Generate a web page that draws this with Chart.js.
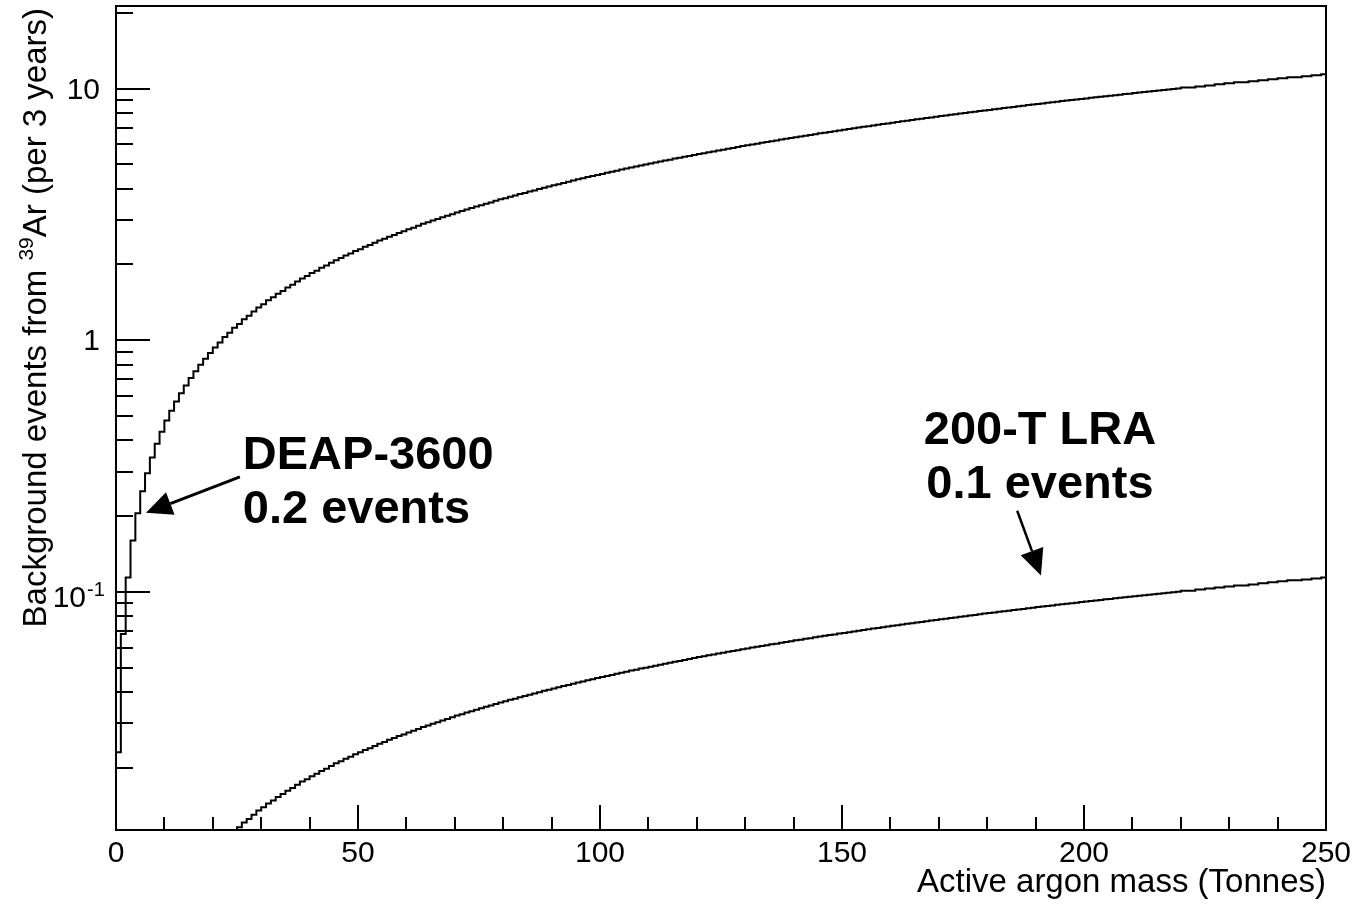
<!DOCTYPE html>
<html>
<head>
<meta charset="utf-8">
<title>39Ar background events vs active argon mass</title>
<script src="https://cdn.jsdelivr.net/npm/chart.js@4/dist/chart.umd.min.js"></script>
<style>
  html, body { margin: 0; padding: 0; background: #fff; }
  canvas { display: block; }
</style>
</head>
<body>
<canvas id="chart" width="1355" height="904" style="width:1355px;height:904px"></canvas>
<script>
// histogram bins are 1 tonne wide, from 0 to 250 tonnes
const binWidth = 1;

// background events per 3 years, atmospheric argon (upper curve)
const bgAtmospheric = [
  0.023, 0.068, 0.114, 0.160, 0.205, 0.251, 0.296, 0.342, 0.388, 0.433,
  0.479, 0.524, 0.570, 0.616, 0.661, 0.707, 0.752, 0.798, 0.844, 0.889,
  0.935, 0.980, 1.03, 1.07, 1.12, 1.16, 1.21, 1.25, 1.30, 1.35,
  1.39, 1.44, 1.48, 1.53, 1.57, 1.62, 1.66, 1.71, 1.76, 1.80,
  1.85, 1.89, 1.94, 1.98, 2.03, 2.08, 2.12, 2.17, 2.21, 2.26,
  2.30, 2.35, 2.39, 2.44, 2.49, 2.53, 2.58, 2.62, 2.67, 2.71,
  2.76, 2.80, 2.85, 2.90, 2.94, 2.99, 3.03, 3.08, 3.12, 3.17,
  3.22, 3.26, 3.31, 3.35, 3.40, 3.44, 3.49, 3.53, 3.58, 3.63,
  3.67, 3.72, 3.76, 3.81, 3.85, 3.90, 3.94, 3.99, 4.04, 4.08,
  4.13, 4.17, 4.22, 4.26, 4.31, 4.36, 4.40, 4.45, 4.49, 4.54,
  4.58, 4.63, 4.67, 4.72, 4.77, 4.81, 4.86, 4.90, 4.95, 4.99,
  5.04, 5.08, 5.13, 5.18, 5.22, 5.27, 5.31, 5.36, 5.40, 5.45,
  5.50, 5.54, 5.59, 5.63, 5.68, 5.72, 5.77, 5.81, 5.86, 5.91,
  5.95, 6.00, 6.04, 6.09, 6.13, 6.18, 6.22, 6.27, 6.32, 6.36,
  6.41, 6.45, 6.50, 6.54, 6.59, 6.64, 6.68, 6.73, 6.77, 6.82,
  6.86, 6.91, 6.95, 7.00, 7.05, 7.09, 7.14, 7.18, 7.23, 7.27,
  7.32, 7.36, 7.41, 7.46, 7.50, 7.55, 7.59, 7.64, 7.68, 7.73,
  7.78, 7.82, 7.87, 7.91, 7.96, 8.00, 8.05, 8.09, 8.14, 8.19,
  8.23, 8.28, 8.32, 8.37, 8.41, 8.46, 8.50, 8.55, 8.60, 8.64,
  8.69, 8.73, 8.78, 8.82, 8.87, 8.92, 8.96, 9.01, 9.05, 9.10,
  9.14, 9.19, 9.23, 9.28, 9.33, 9.37, 9.42, 9.46, 9.51, 9.55,
  9.60, 9.64, 9.69, 9.74, 9.78, 9.83, 9.87, 9.92, 9.96, 10.0,
  10.1, 10.1, 10.1, 10.2, 10.2, 10.3, 10.3, 10.4, 10.4, 10.5,
  10.5, 10.6, 10.6, 10.6, 10.7, 10.7, 10.8, 10.8, 10.9, 10.9,
  11.0, 11.0, 11.1, 11.1, 11.1, 11.2, 11.2, 11.3, 11.3, 11.4
];

// background events per 3 years, low radioactivity argon (lower curve)
const bgLowRadio = [
  0.00023, 0.00068, 0.00114, 0.00160, 0.00205, 0.00251, 0.00296, 0.00342, 0.00388, 0.00433,
  0.00479, 0.00524, 0.00570, 0.00616, 0.00661, 0.00707, 0.00752, 0.00798, 0.00844, 0.00889,
  0.00935, 0.00980, 0.0103, 0.0107, 0.0112, 0.0116, 0.0121, 0.0125, 0.0130, 0.0135,
  0.0139, 0.0144, 0.0148, 0.0153, 0.0157, 0.0162, 0.0166, 0.0171, 0.0176, 0.0180,
  0.0185, 0.0189, 0.0194, 0.0198, 0.0203, 0.0208, 0.0212, 0.0217, 0.0221, 0.0226,
  0.0230, 0.0235, 0.0239, 0.0244, 0.0249, 0.0253, 0.0258, 0.0262, 0.0267, 0.0271,
  0.0276, 0.0280, 0.0285, 0.0290, 0.0294, 0.0299, 0.0303, 0.0308, 0.0312, 0.0317,
  0.0322, 0.0326, 0.0331, 0.0335, 0.0340, 0.0344, 0.0349, 0.0353, 0.0358, 0.0363,
  0.0367, 0.0372, 0.0376, 0.0381, 0.0385, 0.0390, 0.0394, 0.0399, 0.0404, 0.0408,
  0.0413, 0.0417, 0.0422, 0.0426, 0.0431, 0.0436, 0.0440, 0.0445, 0.0449, 0.0454,
  0.0458, 0.0463, 0.0467, 0.0472, 0.0477, 0.0481, 0.0486, 0.0490, 0.0495, 0.0499,
  0.0504, 0.0508, 0.0513, 0.0518, 0.0522, 0.0527, 0.0531, 0.0536, 0.0540, 0.0545,
  0.0550, 0.0554, 0.0559, 0.0563, 0.0568, 0.0572, 0.0577, 0.0581, 0.0586, 0.0591,
  0.0595, 0.0600, 0.0604, 0.0609, 0.0613, 0.0618, 0.0622, 0.0627, 0.0632, 0.0636,
  0.0641, 0.0645, 0.0650, 0.0654, 0.0659, 0.0664, 0.0668, 0.0673, 0.0677, 0.0682,
  0.0686, 0.0691, 0.0695, 0.0700, 0.0705, 0.0709, 0.0714, 0.0718, 0.0723, 0.0727,
  0.0732, 0.0736, 0.0741, 0.0746, 0.0750, 0.0755, 0.0759, 0.0764, 0.0768, 0.0773,
  0.0778, 0.0782, 0.0787, 0.0791, 0.0796, 0.0800, 0.0805, 0.0809, 0.0814, 0.0819,
  0.0823, 0.0828, 0.0832, 0.0837, 0.0841, 0.0846, 0.0850, 0.0855, 0.0860, 0.0864,
  0.0869, 0.0873, 0.0878, 0.0882, 0.0887, 0.0892, 0.0896, 0.0901, 0.0905, 0.0910,
  0.0914, 0.0919, 0.0923, 0.0928, 0.0933, 0.0937, 0.0942, 0.0946, 0.0951, 0.0955,
  0.0960, 0.0964, 0.0969, 0.0974, 0.0978, 0.0983, 0.0987, 0.0992, 0.0996, 0.100,
  0.101, 0.101, 0.101, 0.102, 0.102, 0.103, 0.103, 0.104, 0.104, 0.105,
  0.105, 0.106, 0.106, 0.106, 0.107, 0.107, 0.108, 0.108, 0.109, 0.109,
  0.110, 0.110, 0.111, 0.111, 0.111, 0.112, 0.112, 0.113, 0.113, 0.114
];

// axis ticks
const xMajorTicks = [0, 50, 100, 150, 200, 250];
const xMinorTicks = [10, 20, 30, 40, 60, 70, 80, 90, 110, 120, 130, 140,
  160, 170, 180, 190, 210, 220, 230, 240];
const yMajorTicks = [0.1, 1, 10];
const yMinorTicks = [0.02, 0.03, 0.04, 0.05, 0.06, 0.07, 0.08, 0.09,
  0.2, 0.3, 0.4, 0.5, 0.6, 0.7, 0.8, 0.9,
  2, 3, 4, 5, 6, 7, 8, 9, 20];
const xRange = [0, 250];
const yRange = [0.0113, 21.3];

const xTitle = 'Active argon mass (Tonnes)';
const yTitleParts = ['Background events from ', '39', 'Ar (per 3 years)'];

// annotations, anchored in data coordinates
const notes = [
  { lines: ['DEAP-3600', '0.2 events'], at: { x: 26.2, y: 0.308 }, align: 'left',
    arrow: { from: { x: 25.6, y: 0.286 }, to: { x: 6.2, y: 0.206 }, width: 3 } },
  { lines: ['200-T LRA', '0.1 events'], at: { x: 190.9, y: 0.387 }, align: 'center',
    arrow: { from: { x: 186.2, y: 0.21 }, to: { x: 191.1, y: 0.116 }, width: 2.5 } }
];

const FONT = '"Liberation Sans", Arial, Helvetica, sans-serif';
const INK = '#000';
const TICK_FONT = 30;

function histPoints(values) {
  const pts = values.map((v, i) => ({ x: i * binWidth, y: v }));
  pts.push({ x: values.length * binWidth, y: values[values.length - 1] });
  return pts;
}

function drawArrow(ctx, x0, y0, x1, y1, lw) {
  const a = Math.atan2(y1 - y0, x1 - x0);
  const len = 26, half = 12;
  const bx = x1 - len * Math.cos(a), by = y1 - len * Math.sin(a);
  ctx.lineWidth = lw;
  ctx.beginPath();
  ctx.moveTo(x0, y0);
  ctx.lineTo(bx, by);
  ctx.stroke();
  ctx.beginPath();
  ctx.moveTo(x1, y1);
  ctx.lineTo(bx + half * Math.sin(a), by - half * Math.cos(a));
  ctx.lineTo(bx - half * Math.sin(a), by + half * Math.cos(a));
  ctx.closePath();
  ctx.fill();
}

const rootStyle = {
  id: 'rootStyle',
  afterDraw(chart) {
    const { ctx, chartArea: a, scales: { x, y } } = chart;
    ctx.save();
    ctx.strokeStyle = INK;
    ctx.fillStyle = INK;
    ctx.lineWidth = 2;
    ctx.lineCap = 'butt';

    // frame
    ctx.strokeRect(a.left, a.top, a.right - a.left, a.bottom - a.top);

    // inward tick marks
    ctx.beginPath();
    yMajorTicks.forEach(v => { const p = Math.round(y.getPixelForValue(v)); ctx.moveTo(a.left, p); ctx.lineTo(a.left + 34, p); });
    yMinorTicks.forEach(v => { const p = Math.round(y.getPixelForValue(v)); ctx.moveTo(a.left, p); ctx.lineTo(a.left + 17, p); });
    xMajorTicks.forEach(v => { const p = Math.round(x.getPixelForValue(v)); ctx.moveTo(p, a.bottom); ctx.lineTo(p, a.bottom - 25); });
    xMinorTicks.forEach(v => { const p = Math.round(x.getPixelForValue(v)); ctx.moveTo(p, a.bottom); ctx.lineTo(p, a.bottom - 13); });
    ctx.stroke();

    // 10^-1 label
    const p01 = y.getPixelForValue(0.1);
    ctx.textBaseline = 'alphabetic';
    ctx.textAlign = 'right';
    ctx.font = TICK_FONT + 'px ' + FONT;
    ctx.fillText('10', a.left - 30, p01 + 15);
    ctx.textAlign = 'left';
    ctx.font = '20px ' + FONT;
    ctx.fillText('-1', a.left - 29, p01 + 4);

    // x title, right aligned to the axis end
    ctx.font = '33px ' + FONT;
    ctx.textAlign = 'right';
    ctx.fillText(xTitle, a.right, a.bottom + 62);

    // y title, rotated, ending at the top of the axis
    ctx.save();
    ctx.translate(46, 0);
    ctx.rotate(-Math.PI / 2);
    ctx.textAlign = 'left';
    const sizes = [33, 21, 33], rise = [0, 13, 0];
    let total = 0;
    const widths = yTitleParts.map((t, i) => {
      ctx.font = sizes[i] + 'px ' + FONT;
      const w = ctx.measureText(t).width;
      total += w;
      return w;
    });
    let u = -(a.top + 2) - total;
    yTitleParts.forEach((t, i) => {
      ctx.font = sizes[i] + 'px ' + FONT;
      ctx.fillText(t, u, -rise[i]);
      u += widths[i];
    });
    ctx.restore();

    // annotations
    notes.forEach(n => {
      const tx = x.getPixelForValue(n.at.x), ty = y.getPixelForValue(n.at.y);
      ctx.font = 'bold 47px ' + FONT;
      ctx.textAlign = n.align;
      n.lines.forEach((line, i) => ctx.fillText(line, tx, ty + i * 54));
      drawArrow(ctx,
        x.getPixelForValue(n.arrow.from.x), y.getPixelForValue(n.arrow.from.y),
        x.getPixelForValue(n.arrow.to.x), y.getPixelForValue(n.arrow.to.y),
        n.arrow.width);
    });
    ctx.restore();
  }
};

const lineStyle = {
  stepped: 'before',
  borderColor: INK,
  borderWidth: 2,
  pointRadius: 0,
  fill: false,
  tension: 0
};

new Chart(document.getElementById('chart'), {
  type: 'line',
  data: {
    datasets: [
      Object.assign({ label: 'Atmospheric argon', data: histPoints(bgAtmospheric) }, lineStyle),
      Object.assign({ label: 'Low radioactivity argon', data: histPoints(bgLowRadio) }, lineStyle)
    ]
  },
  options: {
    responsive: false,
    devicePixelRatio: 1,
    animation: false,
    events: [],
    layout: { padding: { top: 6, right: 29, left: 0, bottom: 0 } },
    plugins: { legend: { display: false }, tooltip: { enabled: false } },
    scales: {
      x: {
        type: 'linear',
        min: xRange[0],
        max: xRange[1],
        grid: { display: false, drawTicks: false },
        border: { display: false },
        afterBuildTicks: s => { s.ticks = xMajorTicks.map(v => ({ value: v })); },
        ticks: { font: { family: FONT, size: TICK_FONT }, color: INK, padding: 6, maxRotation: 0, autoSkip: false },
        afterFit: s => { s.height = 74; s.paddingLeft = 0; s.paddingRight = 0; }
      },
      y: {
        type: 'logarithmic',
        min: yRange[0],
        max: yRange[1],
        grid: { display: false, drawTicks: false },
        border: { display: false },
        afterBuildTicks: s => { s.ticks = yMajorTicks.filter(v => v >= 1).map(v => ({ value: v })); },
        ticks: {
          font: { family: FONT, size: TICK_FONT }, color: INK, padding: 16, labelOffset: 2,
          callback: v => String(v)
        },
        afterFit: s => { s.width = 116; s.paddingTop = 0; s.paddingBottom = 0; }
      }
    }
  },
  plugins: [rootStyle]
});
</script>
</body>
</html>
